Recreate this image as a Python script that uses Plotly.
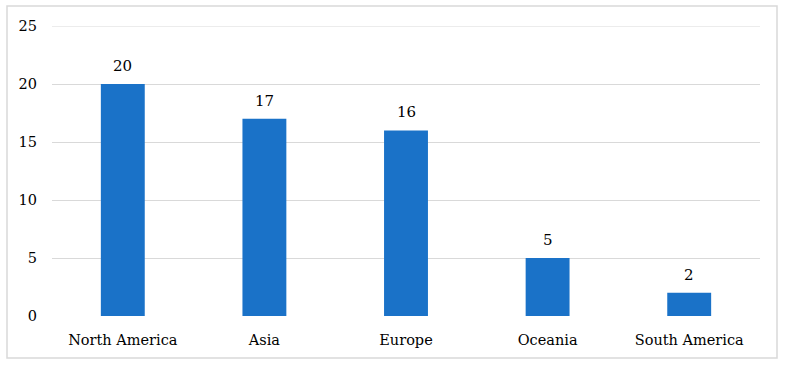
import plotly.graph_objects as go

categories = ["North America", "Asia", "Europe", "Oceania", "South America"]
values = [20, 17, 16, 5, 2]
y_ticks = [0, 5, 10, 15, 20, 25]

W, H = 787, 368
L, R, T, B = 52, 27, 26, 52
pw, ph = W - L - R, H - T - B
FONT = "DejaVu Serif, serif"
GRID = "#d9d9d9"

fig = go.Figure(go.Bar(
    x=categories, y=values,
    marker=dict(color="#1a72c8", line=dict(width=0)),
    width=0.31,
))

for c, v in zip(categories, values):
    fig.add_annotation(x=c, y=v, text=str(v), showarrow=False, yanchor="bottom",
                       yshift=7, font=dict(family=FONT, size=15, color="#000000"))

fig.update_layout(
    width=W, height=H,
    margin=dict(l=L, r=R, t=T, b=B),
    paper_bgcolor="white", plot_bgcolor="white",
    font=dict(family=FONT, size=14.5, color="#000000"),
    showlegend=False,
    xaxis=dict(showgrid=False, showline=False, ticks="", ticklabelstandoff=13, automargin=False),
    yaxis=dict(range=[0, 25], tickvals=y_ticks, showgrid=True, gridcolor=GRID,
               gridwidth=1, zeroline=False, showline=False, ticks="",
               ticklabelstandoff=14, automargin=False),
    shapes=[
        dict(type="rect", xref="paper", yref="paper",
             x0=(7 - L) / pw, x1=(777 - L) / pw,
             y0=(H - B - 358) / ph, y1=(H - B - 6) / ph,
             line=dict(color=GRID, width=1.5), fillcolor="rgba(0,0,0,0)"),
        dict(type="line", xref="paper", yref="y", x0=0, x1=1, y0=y_ticks[-1], y1=y_ticks[-1],
             line=dict(color=GRID, width=1), layer="below"),
    ],
)

fig.write_html("out.html", config={"displayModeBar": False},
               post_script="document.body.style.margin='0';document.body.style.overflow='hidden';")
